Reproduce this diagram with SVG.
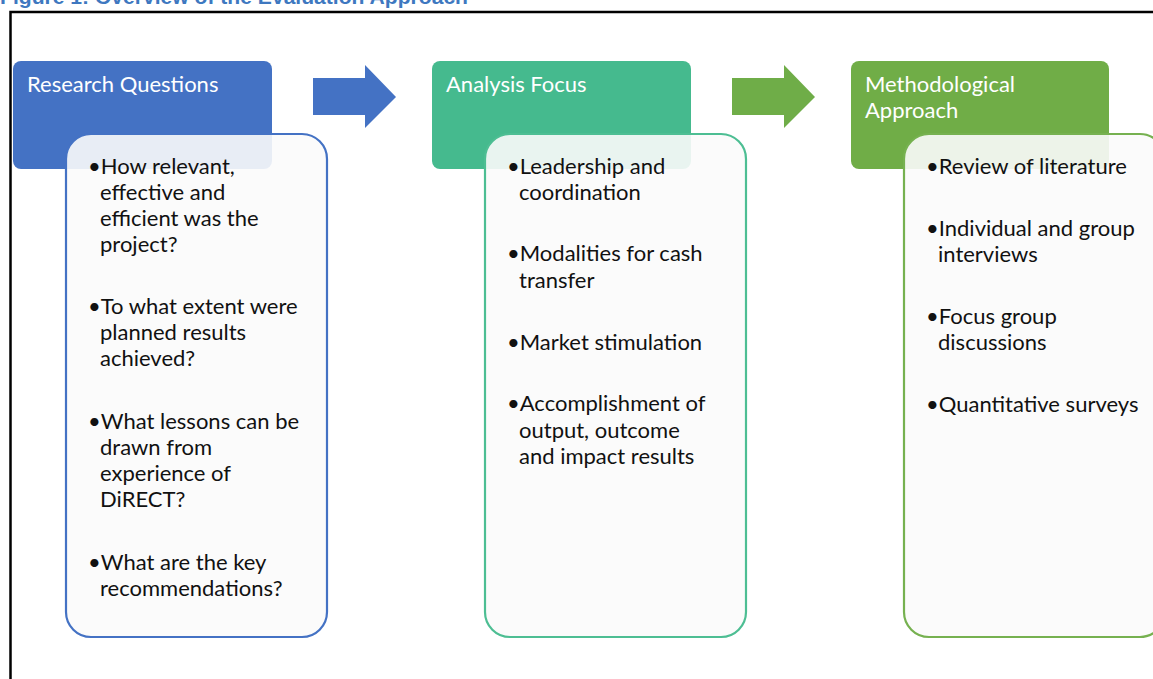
<svg xmlns="http://www.w3.org/2000/svg" width="1153" height="679" viewBox="0 0 1153 679">
<style>
.title{font-family:"Liberation Sans",Arial,sans-serif;font-weight:bold;font-size:20px;fill:#3E78C0}
.hdr{font-family:Lato,"Liberation Sans",sans-serif;font-size:22px;fill:#ffffff}
.txt{font-family:Lato,"Liberation Sans",sans-serif;font-size:22px;fill:#111111}
.body{fill:#fbfbfb;fill-opacity:0.9;stroke-width:2.2}
</style>
<rect width="1153" height="679" fill="#ffffff"/>
<text class="title" x="0" y="4" textLength="468" lengthAdjust="spacingAndGlyphs">Figure 1: Overview of the Evaluation Approach</text>
<rect x="10.5" y="12" width="1160" height="700" fill="none" stroke="#000000" stroke-width="2.5"/>
<g id="connectors">
<polygon points="313,78 365,78 365,65 396,97 365,128 365,115 313,115" fill="#4472C4"/>
<polygon points="732,78 784,78 784,65 815,97 784,128 784,115 732,115" fill="#6FAD48"/>
</g>
<g id="research-questions">
<rect x="13" y="61" width="259" height="108" rx="8" fill="#4472C4"/>
<text class="hdr" x="27" y="92">Research Questions</text>
<rect class="body" x="66" y="134" width="261" height="503" rx="25" stroke="#4472C4"/>
<text class="txt">
<tspan x="88" y="174">•How relevant,</tspan>
<tspan x="100" y="200">effective and</tspan>
<tspan x="100" y="226">efficient was the</tspan>
<tspan x="100" y="252">project?</tspan>
<tspan x="88" y="314">•To what extent were</tspan>
<tspan x="100" y="340">planned results</tspan>
<tspan x="100" y="366">achieved?</tspan>
<tspan x="88" y="429">•What lessons can be</tspan>
<tspan x="100" y="455">drawn from</tspan>
<tspan x="100" y="481">experience of</tspan>
<tspan x="100" y="507">DiRECT?</tspan>
<tspan x="88" y="570">•What are the key</tspan>
<tspan x="100" y="596">recommendations?</tspan>
</text>
</g>
<g id="analysis-focus">
<rect x="432" y="61" width="259" height="108" rx="8" fill="#45BA8E"/>
<text class="hdr" x="446" y="92">Analysis Focus</text>
<rect class="body" x="485" y="134" width="261" height="503" rx="25" stroke="#4DBE93"/>
<text class="txt">
<tspan x="507" y="174">•Leadership and</tspan>
<tspan x="519" y="200">coordination</tspan>
<tspan x="507" y="261">•Modalities for cash</tspan>
<tspan x="519" y="288">transfer</tspan>
<tspan x="507" y="350">•Market stimulation</tspan>
<tspan x="507" y="411">•Accomplishment of</tspan>
<tspan x="519" y="438">output, outcome</tspan>
<tspan x="519" y="464">and impact results</tspan>
</text>
</g>
<g id="methodological-approach">
<rect x="851" y="61" width="258" height="108" rx="8" fill="#70AD47"/>
<text class="hdr"><tspan x="865" y="92">Methodological</tspan><tspan x="865" y="118">Approach</tspan></text>
<rect class="body" x="904" y="134" width="261" height="503" rx="25" stroke="#76B150"/>
<text class="txt">
<tspan x="926" y="174">•Review of literature</tspan>
<tspan x="926" y="236">•Individual and group</tspan>
<tspan x="938" y="262">interviews</tspan>
<tspan x="926" y="324">•Focus group</tspan>
<tspan x="938" y="350">discussions</tspan>
<tspan x="926" y="412">•Quantitative surveys</tspan>
</text>
</g>
</svg>
